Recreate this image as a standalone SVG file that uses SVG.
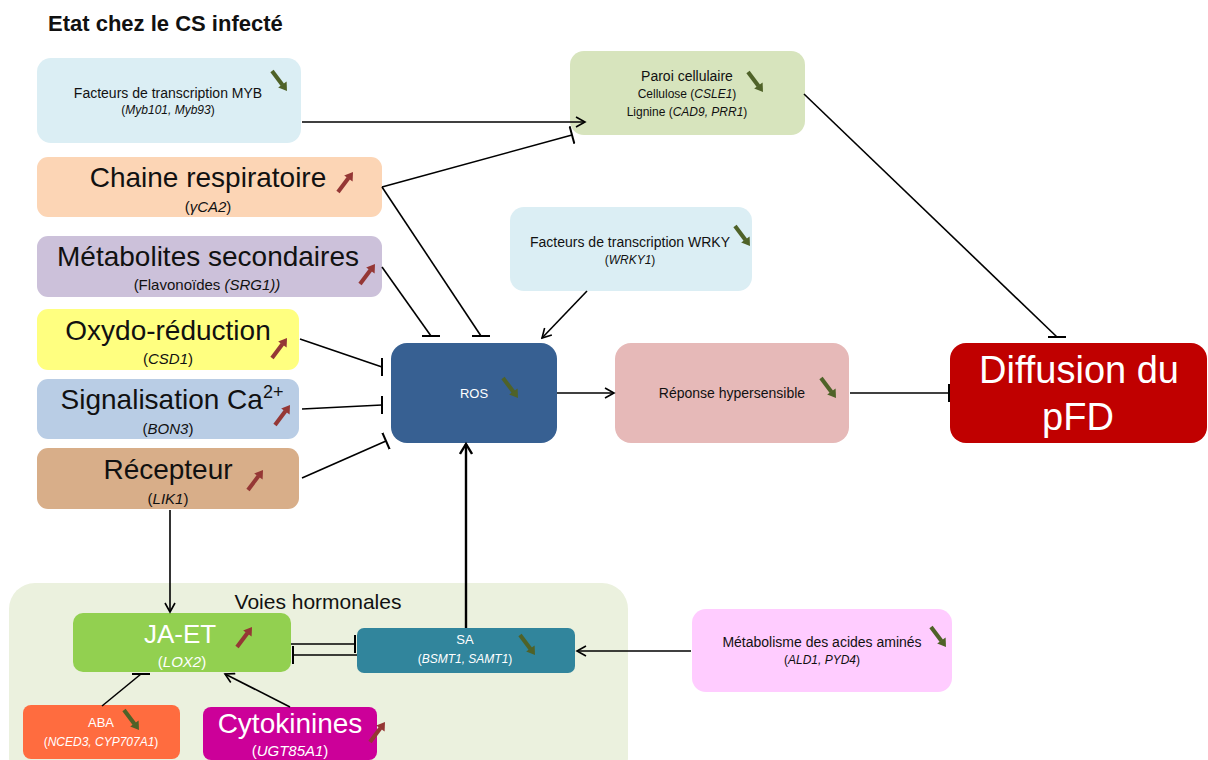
<svg xmlns="http://www.w3.org/2000/svg" width="1208" height="760" viewBox="0 0 1208 760">
<style>
text{font-family:"Liberation Sans",Arial,sans-serif;fill:#111;text-anchor:middle}
.w{fill:#fff}
.big{font-size:28px}
.s14{font-size:14px}
.s12{font-size:12px}
.s15{font-size:15px}
.i{font-style:italic}
.c{fill:none;stroke:#000;stroke-width:1.6}
</style>
<defs>
<marker id="arr" viewBox="0 0 12 12" refX="10" refY="6" markerWidth="12" markerHeight="12" markerUnits="userSpaceOnUse" orient="auto"><path d="M1,1 L10,6 L1,11" fill="none" stroke="#000" stroke-width="1.6"/></marker>
<marker id="arr2" viewBox="0 0 14 14" refX="11" refY="7" markerWidth="14" markerHeight="14" markerUnits="userSpaceOnUse" orient="auto"><path d="M1,1 L11,7 L1,13" fill="none" stroke="#000" stroke-width="2.4"/></marker>
<marker id="bar" viewBox="0 0 4 18" refX="2" refY="9" markerWidth="4" markerHeight="18" markerUnits="userSpaceOnUse" orient="auto"><line x1="2" y1="0" x2="2" y2="18" stroke="#000" stroke-width="2"/></marker>
<marker id="barV" viewBox="0 0 4 18" refX="2" refY="9" markerWidth="4" markerHeight="18" markerUnits="userSpaceOnUse" orient="0"><line x1="2" y1="0" x2="2" y2="18" stroke="#000" stroke-width="2"/></marker>
<marker id="barH" viewBox="0 0 18 4" refX="9" refY="2" markerWidth="18" markerHeight="4" markerUnits="userSpaceOnUse" orient="0"><line x1="0" y1="2" x2="18" y2="2" stroke="#000" stroke-width="2"/></marker>
<g id="dn"><line x1="0" y1="0" x2="10.5" y2="14" stroke="#4f6228" stroke-width="4"/><polygon points="15,20 14.6,10.4 6.2,16.6" fill="#4f6228"/></g>
<g id="up"><line x1="0" y1="0" x2="10.5" y2="-14" stroke="#953735" stroke-width="4"/><polygon points="15,-20 14.6,-10.4 6.2,-16.6" fill="#953735"/></g>
</defs>

<text x="48" y="31" text-anchor="start" style="text-anchor:start;font-size:22px;font-weight:bold">Etat chez le CS infecté</text>

<g id="voies">
<rect x="9" y="583" width="619" height="200" rx="26" fill="#ebf1de"/>
<text x="318" y="609" style="font-size:21px">Voies hormonales</text>
</g>

<g id="myb">
<rect x="37" y="58" width="264" height="85" rx="14" fill="#dbeef4"/>
<text x="168" y="98" class="s14">Facteurs de transcription MYB</text>
<text x="168" y="114" class="s12">(<tspan class="i">Myb101, Myb93</tspan>)</text>
<use href="#dn" x="272" y="71"/>
</g>

<g id="chaine">
<rect x="37" y="157" width="345" height="60" rx="11" fill="#fcd5b5"/>
<text x="208" y="187" class="big">Chaine respiratoire</text>
<text x="208" y="212" class="s15">(<tspan class="i">γCA2</tspan>)</text>
<use href="#up" x="338" y="192"/>
</g>

<g id="metab2">
<rect x="37" y="236" width="345" height="61" rx="11" fill="#ccc1da"/>
<text x="208" y="266" class="big">Métabolites secondaires</text>
<text x="207" y="290" class="s15">(Flavonoïdes <tspan class="i">(SRG1))</tspan></text>
<use href="#up" x="360" y="284"/>
</g>

<g id="oxydo">
<rect x="37" y="309" width="262" height="61" rx="11" fill="#ffff80"/>
<text x="168" y="340" class="big">Oxydo-réduction</text>
<text x="168" y="364" class="s15">(<tspan class="i">CSD1</tspan>)</text>
<use href="#up" x="272" y="358"/>
</g>

<g id="signal">
<rect x="37" y="379" width="262" height="60" rx="11" fill="#b9cde5"/>
<text x="172" y="409" class="big">Signalisation Ca<tspan dy="-11" style="font-size:18px">2+</tspan></text>
<text x="168" y="434" class="s15">(<tspan class="i">BON3</tspan>)</text>
<use href="#up" x="275" y="425"/>
</g>

<g id="recepteur">
<rect x="37" y="448" width="262" height="61" rx="11" fill="#d8ae89"/>
<text x="168" y="479" class="big">Récepteur</text>
<text x="168" y="504" class="s15">(<tspan class="i">LIK1</tspan>)</text>
<use href="#up" x="248" y="490"/>
</g>

<g id="paroi">
<rect x="570" y="51" width="235" height="84" rx="14" fill="#d7e4bd"/>
<text x="687" y="81" class="s14">Paroi cellulaire</text>
<text x="687" y="98" class="s12">Cellulose (<tspan class="i">CSLE1</tspan>)</text>
<text x="687" y="116" class="s12">Lignine (<tspan class="i">CAD9, PRR1</tspan>)</text>
<use href="#dn" x="748" y="72"/>
</g>

<g id="wrky">
<rect x="510" y="207" width="242" height="84" rx="14" fill="#dbeef4"/>
<text x="630" y="247" class="s14">Facteurs de transcription WRKY</text>
<text x="630" y="264" class="s12">(<tspan class="i">WRKY1</tspan>)</text>
<use href="#dn" x="735" y="226"/>
</g>

<g id="ros">
<rect x="391" y="343" width="166" height="100" rx="16" fill="#376092"/>
<text x="474" y="398" class="w" style="font-size:13px">ROS</text>
<use href="#dn" x="503" y="378"/>
</g>

<g id="reponse">
<rect x="615" y="343" width="234" height="100" rx="16" fill="#e6b9b8"/>
<text x="732" y="398" class="s14">Réponse hypersensible</text>
<use href="#dn" x="821" y="378"/>
</g>

<g id="diffusion">
<rect x="950" y="343" width="257" height="100" rx="16" fill="#c00000"/>
<text x="1079" y="383" class="w" style="font-size:38px">Diffusion du</text>
<text x="1078" y="430" class="w" style="font-size:38px">pFD</text>
</g>

<g id="jaet">
<rect x="73" y="613" width="218" height="59" rx="10" fill="#92d050"/>
<text x="180" y="643" class="w" style="font-size:26px">JA-ET</text>
<text x="182" y="667" class="w s15">(<tspan class="i">LOX2</tspan>)</text>
<use href="#up" x="237" y="647"/>
</g>

<g id="sa">
<rect x="357" y="628" width="218" height="45" rx="7" fill="#31859c"/>
<text x="465" y="644" class="w" style="font-size:13px">SA</text>
<text x="465" y="663" class="w s12">(<tspan class="i">BSMT1, SAMT1</tspan>)</text>
<use href="#dn" x="520" y="635"/>
</g>

<g id="aba">
<rect x="23" y="705" width="157" height="54" rx="8" fill="#ff6c3f"/>
<text x="101" y="727" class="w" style="font-size:13px">ABA</text>
<text x="101" y="746" class="w s12">(<tspan class="i">NCED3, CYP707A1</tspan>)</text>
<use href="#dn" x="124" y="710"/>
</g>

<g id="cyto">
<rect x="203" y="707" width="174" height="53" rx="8" fill="#cc0099"/>
<text x="290" y="733" class="w big">Cytokinines</text>
<text x="290" y="756" class="w s15">(<tspan class="i">UGT85A1</tspan>)</text>
<use href="#up" x="370" y="742"/>
</g>

<g id="aa">
<rect x="692" y="609" width="260" height="83" rx="14" fill="#ffccff"/>
<text x="822" y="647" class="s14">Métabolisme des acides aminés</text>
<text x="822" y="664" class="s12">(<tspan class="i">ALD1, PYD4</tspan>)</text>
<use href="#dn" x="931" y="627"/>
</g>

<g id="connectors">
<path class="c" d="M302,122 L585,122" marker-end="url(#arr)"/>
<path class="c" d="M382,187 L572,135" marker-end="url(#bar)"/>
<path class="c" d="M382,187 L481,336" marker-end="url(#barH)"/>
<path class="c" d="M382,267 L431,336" marker-end="url(#barH)"/>
<path class="c" d="M300,339 L382,367" marker-end="url(#barV)"/>
<path class="c" d="M302,409 L382,405" marker-end="url(#barV)"/>
<path class="c" d="M302,478 L386,441" marker-end="url(#bar)"/>
<path class="c" d="M587,291 L542,338" marker-end="url(#arr)"/>
<path class="c" d="M557,393 L614,393" marker-end="url(#arr)"/>
<path class="c" d="M850,393 L949,393" marker-end="url(#barV)"/>
<path class="c" d="M804,94 L1057,337" marker-end="url(#barH)"/>
<path class="c" d="M170,510 L170,612" marker-end="url(#arr)"/>
<path class="c" d="M466,628 L466,444" style="stroke-width:2.4" marker-end="url(#arr2)"/>
<path class="c" d="M291,644 L355,644" marker-end="url(#barV)"/>
<path class="c" d="M357,655 L293,655" marker-end="url(#barV)"/>
<path class="c" d="M102,706 L141,674" marker-end="url(#barH)"/>
<path class="c" d="M290,707 L225,674" marker-end="url(#arr)"/>
<path class="c" d="M691,651 L577,651" marker-end="url(#arr)"/>
</g>
</svg>
